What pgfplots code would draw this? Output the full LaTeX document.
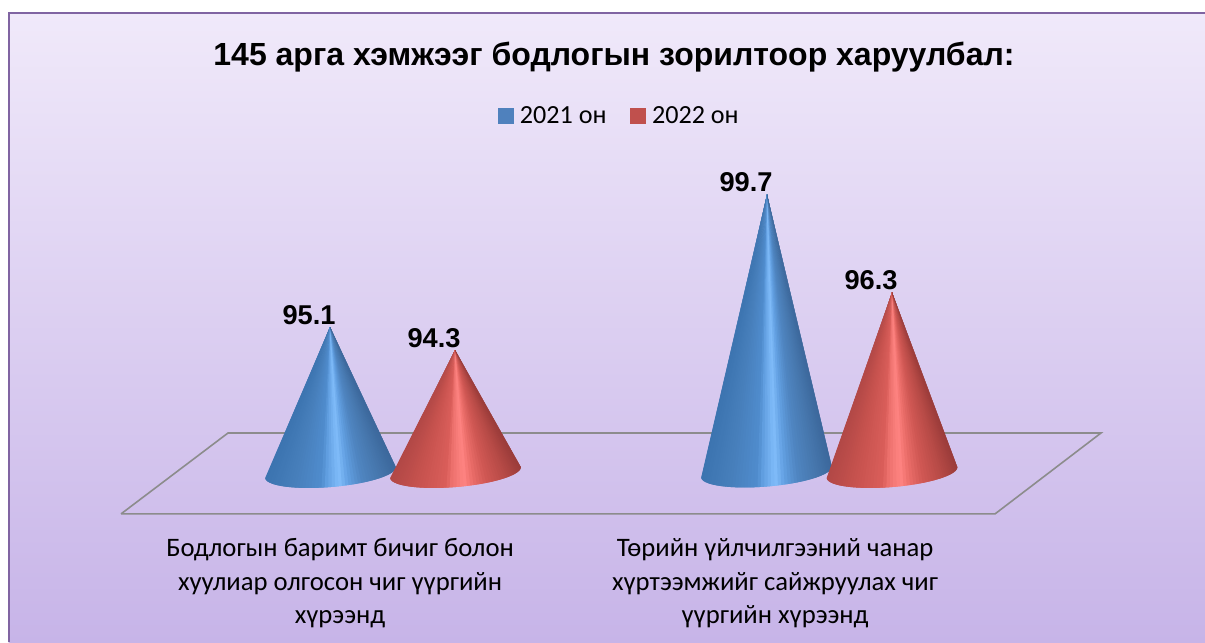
\documentclass[border=0pt]{standalone}
\usepackage{fontspec}
\usepackage{pgfplots}
\pgfplotsset{compat=1.18}
\setmainfont{Carlito}
\newfontfamily\lib{Liberation Sans}
\definecolor{frame}{HTML}{8064A2}
\definecolor{bgtop}{HTML}{F0E9FA}
\definecolor{bgbot}{HTML}{C7B4E8}
\definecolor{floorline}{HTML}{8C8C8C}
\definecolor{legblue}{HTML}{4F81BD}
\definecolor{legred}{HTML}{C0504D}
\pgfplotsset{
 colormap={bluecone}{rgb255(0pt)=(60,116,176); rgb255(20pt)=(70,126,186); rgb255(42pt)=(80,140,205); rgb255(46pt)=(96,158,224); rgb255(56pt)=(128,188,250); rgb255(63pt)=(98,160,226); rgb255(73pt)=(80,134,194); rgb255(88pt)=(70,118,172); rgb255(100pt)=(60,104,156)},
 colormap={redcone}{rgb255(0pt)=(178,72,70); rgb255(20pt)=(198,82,78); rgb255(42pt)=(218,94,90); rgb255(46pt)=(236,112,108); rgb255(56pt)=(255,132,130); rgb255(63pt)=(234,108,104); rgb255(73pt)=(208,88,84); rgb255(88pt)=(182,74,70); rgb255(100pt)=(155,60,58)},
}
% one cone: base centre x, base centre y (px), apex x, value, colormap
% each wedge reaches over the next one, which is painted on top of it: no seams
\newcommand{\cone}[5]{%
 \pgfplotsinvokeforeach{0,...,59}{%
  \pgfmathsetmacro\ca{cos(180-3*##1)}%
  \pgfmathsetmacro\sa{sin(180-3*##1)}%
  \pgfmathsetmacro\cb{cos(max(0,180-3*(##1+2)))}%
  \pgfmathsetmacro\sb{sin(max(0,180-3*(##1+2)))}%
  \pgfmathsetmacro\xa{#1+65.3*\ca+1.21*\sa}%
  \pgfmathsetmacro\xb{#1+65.3*\cb+1.21*\sb}%
  \pgfmathsetmacro\va{90-(#2-5.48*\ca+14.45*\sa-473.9)/28.8}%
  \pgfmathsetmacro\vb{90-(#2-5.48*\cb+14.45*\sb-473.9)/28.8}%
  \pgfmathsetmacro\m{min(1000,max(0,(1+cos(180-3*(##1+0.5)))*500))}%
  \edef\doit{\noexpand\addplot[forget plot,color of colormap={\m\space of #5},fill=.,draw=none] coordinates {(#3,#4) (\xa,\va) (\xb,\vb) (#3,#4)};}%
  \doit
 }%
}
\begin{document}
\begin{tikzpicture}
\begin{axis}[
 scale only axis, width=903.75pt, height=481.5pt,
 xmin=0, xmax=1205, ymin=84.163, ymax=106.455,
 hide axis, clip=true,
 legend style={at={(rel axis cs:0.5141,0.8200)},anchor=center,draw=none,fill=none,font=\fontsize{19.6}{22}\selectfont,legend columns=2,
   /tikz/every odd column/.append style={column sep=3pt},
   /tikz/every even column/.append style={column sep=15.5pt}},
 legend cell align=left,
]
% page, background and frame
\fill[white] (rel axis cs:0,0) rectangle (rel axis cs:1,1);
\fill[top color=bgtop,bottom color=bgbot] (rel axis cs:0.0071,0) rectangle (rel axis cs:1,0.9798);
\draw[frame,line width=1.5pt] (rel axis cs:0.0071,0) -- (rel axis cs:0.0071,0.9798) -- (rel axis cs:1,0.9798);
% floor
\addplot[forget plot,floorline,line width=1.2pt,line join=miter] coordinates {(121,88.61) (228,91.42) (1101,91.42) (995,88.61) (121,88.61)};
% cones
\cone{330.5}{472.5}{330}{95.1}{bluecone}
\cone{455.5}{472.5}{455}{94.3}{redcone}
\cone{766.5}{472}{767}{99.7}{bluecone}
\cone{892}{472.5}{892}{96.3}{redcone}
% values
\addplot[forget plot,draw=none,mark=none,
  nodes near coords={\pgfmathprintnumber[fixed,fixed zerofill,precision=1,assume math mode=true]{\pgfplotspointmeta}},
  every node near coord/.append style={anchor=base,xshift=-15.75pt,yshift=2pt,text=black,inner sep=0pt,font=\lib\bfseries\fontsize{20.4}{22}\selectfont}]
  coordinates {(330,95.1) (455,94.3) (767,99.7) (892,96.3)};
% legend
\pgfplotsset{legend image code/.code={\fill[#1] (0pt,-5.6pt) rectangle (11.25pt,5.6pt);}}
\addlegendimage{legblue}\addlegendentry{2021 он}
\addlegendimage{legred}\addlegendentry{2022 он}
% texts
\node[font=\lib\bfseries\fontsize{24}{26}\selectfont,text=black] at (rel axis cs:0.5095,0.9112) {145 арга хэмжээг бодлогын зорилтоор харуулбал:};
\node[align=center,font=\fontsize{20}{25}\selectfont,text=black] at (rel axis cs:0.2822,0.0916) {Бодлогын баримт бичиг болон\\хуулиар олгосон чиг үүргийн\\хүрээнд};
\node[align=center,font=\fontsize{20}{25}\selectfont,text=black] at (rel axis cs:0.6432,0.0916) {Төрийн үйлчилгээний чанар\\хүртээмжийг сайжруулах чиг\\үүргийн хүрээнд};
\end{axis}
\end{tikzpicture}
\end{document}
